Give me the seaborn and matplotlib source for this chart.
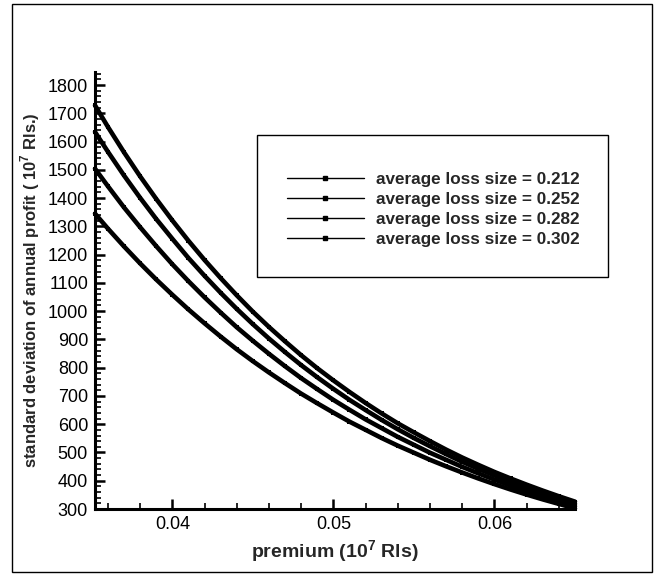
import numpy as np
import pandas as pd
import matplotlib
matplotlib.use("Agg")
import matplotlib.pyplot as plt
from matplotlib.lines import Line2D
from matplotlib.patches import Rectangle
from matplotlib.ticker import MultipleLocator
import seaborn as sns

# ---- data ----
premium = [0.0352, 0.036, 0.037, 0.038, 0.039, 0.040, 0.041, 0.042, 0.043, 0.044,
           0.045, 0.046, 0.047, 0.048, 0.049, 0.050, 0.051, 0.052, 0.053, 0.054,
           0.055, 0.056, 0.057, 0.058, 0.059, 0.060, 0.061, 0.062, 0.063, 0.064, 0.065]
series_names = ["average loss size = 0.212", "average loss size = 0.252",
                "average loss size = 0.282", "average loss size = 0.302"]
std_212 = [1345, 1292, 1229, 1169, 1112, 1058, 1006, 957, 910, 865,
           823, 783, 745, 708, 674, 641, 609, 580, 551, 524,
           499, 474, 451, 429, 408, 388, 369, 351, 334, 318, 302]
std_252 = [1504, 1442, 1367, 1297, 1230, 1166, 1106, 1049, 995, 943,
           895, 849, 805, 763, 724, 686, 651, 617, 586, 555,
           527, 499, 474, 449, 426, 404, 383, 363, 345, 327, 310]
std_282 = [1634, 1564, 1480, 1401, 1326, 1256, 1188, 1125, 1065, 1008,
           954, 903, 855, 809, 766, 725, 686, 650, 615, 582,
           551, 522, 494, 467, 442, 419, 396, 375, 355, 336, 318]
std_302 = [1728, 1652, 1562, 1477, 1397, 1321, 1249, 1181, 1117, 1056,
           998, 944, 893, 844, 798, 755, 714, 675, 638, 603,
           571, 540, 510, 482, 456, 431, 408, 386, 365, 345, 326]

frames = []
for name, vals in zip(series_names, [std_212, std_252, std_282, std_302]):
    frames.append(pd.DataFrame({"premium": premium, "std": vals, "series": name}))
df = pd.concat(frames, ignore_index=True)

sns.set_style("white")
plt.rcParams["font.family"] = ["Liberation Sans", "DejaVu Sans"]
plt.rcParams["mathtext.fontset"] = "custom"
plt.rcParams["mathtext.rm"] = "Liberation Sans"
plt.rcParams["mathtext.bf"] = "Liberation Sans:bold"

W, H = 665, 574
fig = plt.figure(figsize=(W / 100, H / 100), dpi=100)
ax = fig.add_axes([95 / W, 1 - 509 / H, (575 - 95) / W, (509 - 72) / H])

sns.lineplot(data=df, x="premium", y="std", hue="series",
             palette=["black"] * 4, linewidth=3.3, marker="s", markersize=3.3,
             markeredgewidth=0, legend=False, ax=ax, clip_on=False)

ax.set_xlim(0.0352, 0.065)
ax.set_ylim(300, 1846)
ax.xaxis.set_major_locator(MultipleLocator(0.01))
ax.xaxis.set_minor_locator(MultipleLocator(0.002))
ax.yaxis.set_major_locator(MultipleLocator(100))
ax.yaxis.set_minor_locator(MultipleLocator(20))
ax.set_xticks([0.04, 0.05, 0.06])
ax.set_xticklabels(["0.04", "0.05", "0.06"])

for s in ["top", "right"]:
    ax.spines[s].set_visible(False)
for s in ["left", "bottom"]:
    ax.spines[s].set_linewidth(2.2)
    ax.spines[s].set_color("black")

ax.tick_params(axis="both", which="major", direction="in", length=7, width=1.8,
               labelsize=13, colors="black", pad=5)
ax.tick_params(axis="both", which="minor", direction="in", length=4, width=1.2,
               colors="black")
ax.tick_params(axis="x", which="both", bottom=True, top=False)
ax.tick_params(axis="y", which="both", left=True, right=False)
ax.set_facecolor("white")

ax.set_xlabel(r"premium (10$^{\mathbf{7}}$ Rls)", fontsize=14, fontweight="bold", labelpad=4)
ax.set_ylabel(r"standard deviation of annual profit ( 10$^{\mathbf{7}}$ Rls.)", fontsize=12,
              fontweight="bold", labelpad=4)

# outer frame
fig.patches.append(Rectangle((12 / W, 1 - 572 / H), (652 - 12) / W, (572 - 4) / H,
                             transform=fig.transFigure, fill=False,
                             edgecolor="black", linewidth=1.0))
# legend box
fig.patches.append(Rectangle((257 / W, 1 - 277 / H), (608 - 257) / W, (277 - 135) / H,
                             transform=fig.transFigure, fill=False,
                             edgecolor="black", linewidth=1.0))

handles = [Line2D([0], [0], color="black", lw=1.0, marker="s", markersize=3)
           for _ in series_names]
leg = fig.legend(handles, series_names, loc="upper left",
                 bbox_to_anchor=(287 / W, 1 - 172 / H), frameon=False,
                 prop={"size": 12.3, "weight": "bold", "family": "Liberation Sans"},
                 handlelength=4.5, handletextpad=0.7, labelspacing=0.3,
                 borderpad=0, borderaxespad=0)

fig.savefig("out.png", dpi=100, facecolor="white")
